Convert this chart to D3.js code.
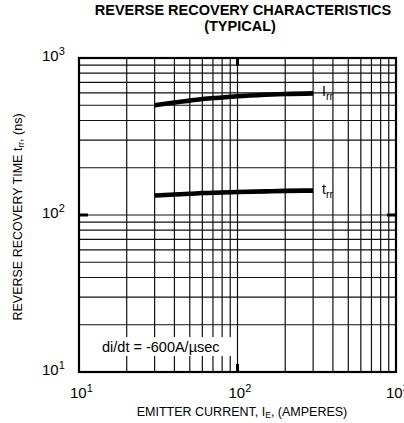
<!DOCTYPE html>
<html><head><meta charset="utf-8">
<script src="https://cdn.jsdelivr.net/npm/d3@7"></script>
<style>body{margin:0;background:#fff}svg{display:block}text{font-family:"Liberation Sans",Arial,sans-serif;fill:#000}</style>
</head><body>
<script>
const currentA = [30, 40, 50, 60, 80, 100, 150, 200, 300];
const irrNs = [500, 520, 535, 548, 560, 570, 583, 590, 595];
const trrNs = [133, 135, 136.5, 138, 139, 140, 141.5, 142.5, 143];
const decadeExp = [1, 2, 3];
const titleLines = ["REVERSE RECOVERY CHARACTERISTICS", "(TYPICAL)"];

const W = 404, H = 423;
const L = 79, R = 396, T = 58, B = 372;
const svg = d3.select("body").append("svg").attr("width", W).attr("height", H);
const x = d3.scaleLog().domain([10, 1000]).range([L, R]);
const y = d3.scaleLog().domain([10, 1000]).range([B, T]);

const gridVals = [];
[10, 100].forEach(d => { for (let k = 1; k <= 9; k++) gridVals.push(k * d); });
gridVals.push(1000);

const g = svg.append("g");
g.selectAll("line.v").data(gridVals).join("line")
  .attr("x1", d => x(d)).attr("x2", d => x(d)).attr("y1", T).attr("y2", B)
  .attr("stroke", "#111").attr("stroke-width", 1.2);
g.selectAll("line.h").data(gridVals).join("line")
  .attr("y1", d => y(d)).attr("y2", d => y(d)).attr("x1", L).attr("x2", R)
  .attr("stroke", "#111").attr("stroke-width", 1.2);

// annotation box
svg.append("rect").attr("x", 97).attr("y", 337).attr("width", 134).attr("height", 19).attr("fill", "#fff");
svg.append("text").attr("x", 102).attr("y", 352).attr("font-size", 14.5).text("di/dt = -600A/µsec");

// frame
svg.append("rect").attr("x", L).attr("y", T).attr("width", R - L).attr("height", B - T)
  .attr("fill", "none").attr("stroke", "#000").attr("stroke-width", 2.2);

// decade ticks inside
svg.append("line").attr("x1", L).attr("x2", L + 9).attr("y1", y(100)).attr("y2", y(100)).attr("stroke", "#000").attr("stroke-width", 3);
svg.append("line").attr("x1", R - 9).attr("x2", R).attr("y1", y(100)).attr("y2", y(100)).attr("stroke", "#000").attr("stroke-width", 3);
svg.append("line").attr("x1", x(100)).attr("x2", x(100)).attr("y1", B - 8).attr("y2", B).attr("stroke", "#000").attr("stroke-width", 3);
svg.append("line").attr("x1", x(100)).attr("x2", x(100)).attr("y1", T).attr("y2", T + 8).attr("stroke", "#000").attr("stroke-width", 3);

// curves
const line = d3.line().x((d, i) => x(currentA[i])).y(d => y(d)).curve(d3.curveMonotoneX);
[irrNs, trrNs].forEach(s => {
  svg.append("path").attr("d", line(s)).attr("fill", "none").attr("stroke", "#000").attr("stroke-width", 4.6);
});

// curve labels
function subLabel(xx, yy, main, sub) {
  const t = svg.append("text").attr("x", xx).attr("y", yy).attr("font-size", 14);
  t.append("tspan").text(main);
  t.append("tspan").attr("font-size", 10.5).attr("dy", 4).text(sub);
}
subLabel(x(300) + 9, y(595) + 3, "I", "rr");
subLabel(x(300) + 9, y(143) + 3, "t", "rr");

// tick labels
decadeExp.forEach(e => {
  const v = Math.pow(10, e);
  const tx = svg.append("text").attr("x", Math.min(x(v) - 9, W - 18)).attr("y", 398).attr("font-size", 15);
  tx.append("tspan").text("10");
  tx.append("tspan").attr("font-size", 11).attr("dy", -6).text(String(e));
  const ty = svg.append("text").attr("x", 42).attr("y", y(v) + 3).attr("font-size", 15);
  ty.append("tspan").text("10");
  ty.append("tspan").attr("font-size", 11).attr("dy", -6).text(String(e));
});

// titles
svg.append("text").attr("x", 243).attr("y", 15).attr("text-anchor", "middle")
  .attr("font-size", 14.5).attr("font-weight", "bold").text(titleLines[0]);
svg.append("text").attr("x", 240).attr("y", 31).attr("text-anchor", "middle")
  .attr("font-size", 14.5).attr("font-weight", "bold").text(titleLines[1]);

const xt = svg.append("text").attr("x", 242).attr("y", 416).attr("text-anchor", "middle").attr("font-size", 12.5);
xt.append("tspan").text("EMITTER CURRENT, I");
xt.append("tspan").attr("font-size", 8.5).attr("dy", 2).text("E");
xt.append("tspan").attr("dy", -2).text(", (AMPERES)");

const yt = svg.append("text").attr("transform", "translate(22,217) rotate(-90)").attr("text-anchor", "middle").attr("font-size", 12.5);
yt.append("tspan").text("REVERSE RECOVERY TIME  t");
yt.append("tspan").attr("font-size", 8.5).attr("dy", 2).text("rr");
yt.append("tspan").attr("dy", -2).text(", (ns)");
</script>
</body></html>
